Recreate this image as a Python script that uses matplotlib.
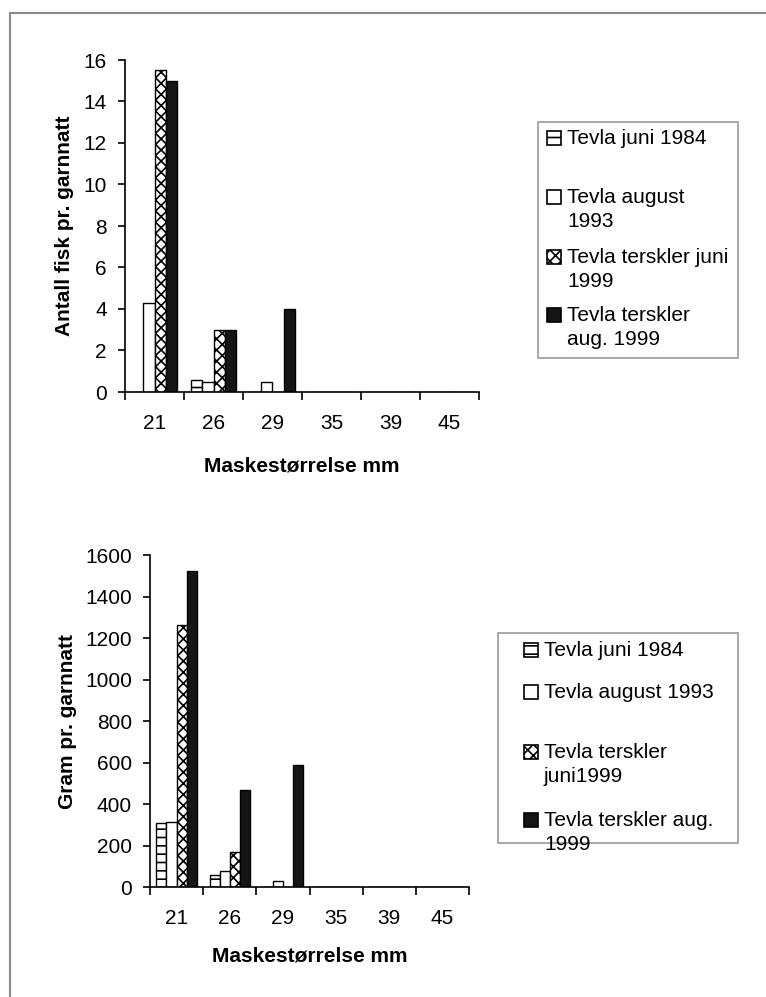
import matplotlib
matplotlib.use("Agg")
import matplotlib.pyplot as plt
import numpy as np
from matplotlib.patches import Rectangle
from matplotlib.lines import Line2D

plt.rcParams['font.family'] = ['Liberation Sans', 'DejaVu Sans']
plt.rcParams['hatch.linewidth'] = 1.2

# mesh sizes (categories)
mesh = ['21', '26', '29', '35', '39', '45']

# top chart: number of fish per net-night
antall_juni84 = [0, 0.6, 0, 0, 0, 0]
antall_aug93 = [4.3, 0.5, 0.5, 0, 0, 0]
antall_juni99 = [15.5, 3.0, 0, 0, 0, 0]
antall_aug99 = [15.0, 3.0, 4.0, 0, 0, 0]
labels_top = ['Tevla juni 1984', 'Tevla august\n1993',
              'Tevla terskler juni\n1999', 'Tevla terskler\naug. 1999']

# bottom chart: grams per net-night
gram_juni84 = [310, 60, 0, 0, 0, 0]
gram_aug93 = [315, 76, 29, 0, 0, 0]
gram_juni99 = [1265, 170, 0, 0, 0, 0]
gram_aug99 = [1525, 468, 590, 0, 0, 0]
labels_bot = ['Tevla juni 1984', 'Tevla august 1993',
              'Tevla terskler\njuni1999', 'Tevla terskler aug.\n1999']

W, H = 766, 997
FS = 15
fig = plt.figure(figsize=(W / 100, H / 100), dpi=100)

# styles for the four series
styles = [dict(color='white', hatch='--'),
          dict(color='white', hatch=None),
          dict(color='white', hatch='xxx'),
          dict(color='#151515', hatch=None)]


def px(x, y):
    return x / W, 1 - y / H


def draw(ax, series, ymax, ystep, ylabel, ylab_x, xlab_y):
    x = np.arange(len(mesh))
    bw = 0.19
    for i, vals in enumerate(series):
        ax.bar(x - 1.5 * bw + i * bw, vals, bw, color=styles[i]['color'],
               hatch=styles[i]['hatch'], edgecolor='black', linewidth=1.0)
    ax.set_xlim(-0.5, len(mesh) - 0.5)
    ax.set_ylim(0, ymax)
    ax.set_yticks(np.arange(0, ymax + 1, ystep))
    ax.set_xticks(x)
    ax.set_xticklabels(mesh)
    ax.set_xticks(np.arange(-0.5, len(mesh)), minor=True)
    ax.tick_params(axis='x', which='major', length=0, pad=16, labelsize=FS)
    ax.tick_params(axis='x', which='minor', length=6, width=1.2, direction='out')
    ax.tick_params(axis='y', length=5, width=1.2, labelsize=FS, pad=8)
    for s in ['top', 'right']:
        ax.spines[s].set_visible(False)
    for s in ['left', 'bottom']:
        ax.spines[s].set_linewidth(1.2)
    ax.set_xlabel('Maskestørrelse mm', fontsize=FS, fontweight='bold')
    ax.set_ylabel(ylabel, fontsize=FS, fontweight='bold')
    ax.yaxis.set_label_coords(ylab_x, 0.5)
    ax.xaxis.set_label_coords(0.5, xlab_y)


def legend(box, entries, labels):
    x0, y0, x1, y1 = box
    fig.add_artist(Rectangle(px(x0, y1), (x1 - x0) / W, (y1 - y0) / H,
                             transform=fig.transFigure, fill=False,
                             edgecolor='#999999', linewidth=1.2))
    for (hx, ty), st, lab in zip(entries, styles, labels):
        fig.add_artist(Rectangle(px(hx, ty + 7), 14 / W, 14 / H,
                                 transform=fig.transFigure, facecolor=st['color'],
                                 hatch=st['hatch'], edgecolor='black', linewidth=1.2))
        fig.text(*px(hx + 20, ty - 9), lab, fontsize=FS, va='top', ha='left',
                 linespacing=1.33)


ax1 = fig.add_axes([125 / W, 1 - 392 / H, 354 / W, 332 / H])
draw(ax1, [antall_juni84, antall_aug93, antall_juni99, antall_aug99], 16, 2,
     'Antall fisk pr. garnnatt', -0.145, -0.195)

ax2 = fig.add_axes([150 / W, 1 - 887 / H, 319 / W, 332 / H])
draw(ax2, [gram_juni84, gram_aug93, gram_juni99, gram_aug99], 1600, 200,
     'Gram pr. garnnatt', -0.23, -0.18)

legend((538, 122, 738, 358), [(547, 138), (547, 197), (547, 257), (547, 315)], labels_top)
legend((498, 633, 738, 843), [(524, 650), (524, 692), (524, 752), (524, 820)], labels_bot)

# scan frame (left and top edges)
fig.add_artist(Line2D([10 / W, 10 / W], [0, 1 - 13 / H], transform=fig.transFigure,
                      color='#8a8a8a', linewidth=1.5))
fig.add_artist(Line2D([10 / W, 1], [1 - 13 / H, 1 - 13 / H], transform=fig.transFigure,
                      color='#8a8a8a', linewidth=1.5))

fig.savefig('out.png', dpi=100)
